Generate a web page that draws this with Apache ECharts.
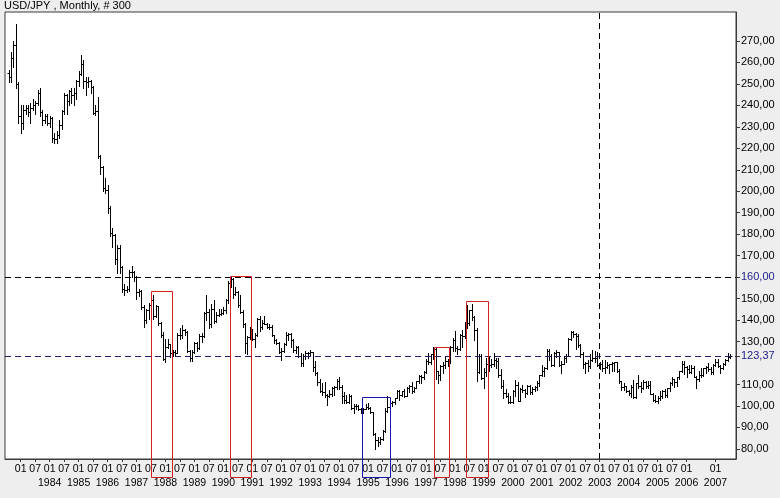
<!DOCTYPE html>
<html>
<head>
<meta charset="utf-8">
<script src="https://cdn.jsdelivr.net/npm/echarts@6/dist/echarts.min.js"></script>
<style>
  html, body { margin: 0; padding: 0; background: #EEEEEE; }
  #chart { width: 780px; height: 498px; }
</style>
</head>
<body>
<div id="chart"></div>
<script>
// Monthly USD/JPY bars, Aug 1982 .. Jul 2007 (300 bars)
const firstMonth = { year: 1982, month: 7 };   // first category (empty slot before the data)
const categoryCount = 303;                      // Jul 1982 .. Sep 2007
const dataStartIndex = 1;                       // Aug 1982

const open = [
  255, 253, 262, 268, 250,
  235, 232, 238, 239, 237, 239, 240, 241, 246, 237, 233, 235,
  232, 234, 225, 224.5, 226, 231, 237.5, 245, 242, 246.5, 245, 246,
  251.5, 254.5, 259.5, 251.5, 251, 251.5, 248.5, 236.5, 237.5, 216.5, 211.5, 201.5,
  200.5, 192, 180.5, 179.5, 168.5, 173.5, 164.5, 154.5, 154, 154.5, 162.5, 162.5,
  160, 153, 153.5, 146, 140, 144.5, 147, 149.5, 142, 146.5, 138.5, 133,
  122, 127.5, 129, 124.5, 125, 124.5, 133, 133, 135.5, 134.5, 125.5, 122.5,
  125, 129.5, 127, 132.5, 132.5, 143.5, 144, 138, 145, 139.5, 142.5, 143,
  143.5, 144.5, 149.5, 157.5, 159, 152, 153, 147, 144, 138, 129.5, 132,
  135.5, 131, 133, 140.5, 137, 138.5, 138, 137, 137, 133, 130.5, 129.5,
  125, 125.5, 129, 133, 133.5, 130.5, 126, 127.5, 123.5, 120, 123.5, 124.5,
  124.5, 125, 118, 115.5, 111, 107, 106.5, 105, 104.5, 105.5, 108.5, 109,
  111.5, 109, 104.5, 103, 102, 104.5, 99, 100, 100, 98.5, 97, 98.5,
  99.5, 99, 97, 87, 84, 83, 84.5, 88.5, 97.5, 99.5, 101.5, 102,
  103.5, 107, 105, 107, 104.5, 108.5, 109.5, 107, 108.5, 111.5, 114, 113.5,
  116, 121, 120.5, 124, 126.5, 116.5, 114.5, 118.5, 119, 121, 120.5, 127.5,
  130.5, 127, 126.5, 133, 132.5, 139, 138.5, 144.5, 141.5, 135.5, 116, 123.5,
  113, 116, 119.5, 119, 119.5, 121.5, 121, 114.5, 109.5, 106, 104.5, 102,
  102, 107, 110, 102.5, 108, 107.5, 106, 109.5, 106.5, 108, 109, 110.5,
  114.5, 116.5, 117.5, 125.5, 123.5, 119, 124.5, 125, 119, 119.5, 122.5, 123.5,
  131, 134.5, 133.5, 132.5, 128.5, 124, 119.5, 120, 118.5, 121.5, 122.5, 122.5,
  119, 119.5, 117.5, 118, 119, 119.5, 120, 120.5, 116.5, 111.5, 109, 109.5,
  107, 106, 109, 104, 110.5, 109.5, 108.5, 111, 109.5, 110, 105.5, 103,
  102.5, 103.5, 104.5, 107, 105, 108.5, 110.5, 112.5, 111, 113.5, 116.5, 119.5,
  118, 117, 116, 117.5, 113.5, 112.5, 114.5, 114.5, 117.5, 118, 117, 116,
  119, 120.5, 118.5, 117.5, 119.5, 121.5, 123
];
const high = [
  256.5, 265, 270, 278, 251,
  240, 240, 240, 240, 241, 243, 242, 247, 248, 238, 236, 236,
  235, 234.5, 227, 228, 233, 238, 246, 245.5, 247, 248, 248, 252,
  256, 263.5, 261, 253, 253, 252, 249, 240, 244, 217, 212, 206,
  203, 193, 183, 180, 175, 175, 165, 157, 156, 163.5, 165, 163,
  160.5, 154.5, 154, 147, 145, 148, 151, 151.5, 147, 146.5, 139, 134.5,
  131, 131, 129, 126, 126, 134, 136.5, 137.5, 136, 135, 126, 126,
  130, 130, 133.5, 134, 144, 151.5, 145, 147.5, 149.5, 144, 145, 145,
  146, 150, 158, 160.5, 159.5, 155.5, 153.5, 151.5, 144.5, 138.5, 132.5, 137,
  136, 134, 141, 142, 140, 142, 138.5, 138, 137.5, 133, 131, 130,
  127, 129.5, 134.5, 134, 134, 131, 128, 128, 124.5, 124, 125.5, 125,
  126, 125, 121, 116, 112.5, 110.5, 111, 105.5, 107.5, 109, 109.5, 112.5,
  113.5, 110, 106.5, 105, 105.5, 105, 101, 101, 100.5, 99, 99, 101,
  101.5, 99.5, 97, 87.5, 85.5, 85.5, 89, 99, 104.5, 101.5, 102.5, 103.5,
  107.5, 107.5, 107, 108, 109, 110, 111, 109, 111.5, 114.5, 114.5, 116.5,
  122, 124.5, 124, 127.5, 127, 116.5, 119, 120.5, 123, 122, 128, 131.5,
  135, 128, 133.5, 135.5, 139, 147, 144.5, 147.5, 142, 136.5, 124, 124,
  117.5, 122.5, 123, 122, 124.5, 122.5, 122.5, 117, 112, 108, 106, 104.5,
  107.5, 112, 111, 108.5, 110, 108, 110, 110, 109, 109.5, 111.5, 114.5,
  119, 118, 126.5, 126.5, 124, 125, 126, 125, 121, 123.5, 124, 131.5,
  135, 135, 134, 133.5, 129, 125, 120.5, 121.5, 124, 126, 125.5, 125,
  120.5, 121.5, 121.5, 120.5, 119.5, 120.5, 120.5, 120.5, 117, 111.5, 110.5, 109.5,
  107.5, 110, 112, 110.5, 114.5, 111, 112, 111.5, 111.5, 111.5, 106, 105,
  104.5, 107, 107.5, 108, 108.5, 111, 113.5, 112.5, 113.5, 116.5, 121, 121,
  118.5, 119, 119, 118.5, 114, 116.5, 117.5, 117.5, 118.5, 120, 118, 119.5,
  122, 122, 119, 120, 122, 124.5, 124
];
const low = [
  251, 251, 258, 248, 232,
  227, 229, 236, 235, 232, 238, 236, 240, 235, 231, 232, 231,
  230, 223, 222.5, 222.5, 225, 229, 236, 236, 240, 241, 240, 243,
  249, 254, 248, 245, 248.5, 246, 236, 235.5, 215.5, 208, 200, 199,
  190, 179, 174, 166, 162, 162, 153, 151.5, 153, 153.5, 160, 158,
  150, 151, 145, 137, 138.5, 140.5, 146.5, 140.5, 141.5, 137.5, 132, 121.5,
  120.5, 127, 123, 123.5, 123.5, 124.5, 131, 131.5, 133, 125, 121, 121,
  124.5, 125.5, 126.5, 130, 132, 140, 136.5, 137, 138.5, 139, 142, 142.5,
  143, 143.5, 148, 155.5, 150.5, 151.5, 146, 143.5, 137, 124.5, 124, 131,
  130.5, 127.5, 132.5, 135, 136, 138, 136.5, 136, 132.5, 129.5, 129, 124.5,
  121.5, 125, 128.5, 130.5, 127.5, 125, 124.5, 123, 118.5, 118.5, 122, 122.5,
  123.5, 116.5, 114.5, 110, 106.5, 105, 104, 100.5, 104, 104.5, 105, 108,
  108, 101.5, 101.5, 101.5, 101.5, 98.5, 96.5, 98.5, 98, 96.5, 96.5, 98.5,
  98.5, 96.5, 86.5, 79.8, 81.5, 82.5, 84, 88, 97, 98.5, 100, 101,
  103.5, 103, 104.5, 104, 104.5, 106.5, 106, 106.5, 108.5, 110.5, 110.5, 112.5,
  115.5, 119.5, 119.5, 122, 112.5, 110.5, 112, 115.5, 117.5, 118.5, 120, 125.5,
  125.5, 124, 126, 127.5, 131.5, 136.5, 137.5, 140, 130.5, 111.5, 115.5, 112.5,
  108.5, 114, 116.5, 118, 118.5, 117.5, 113.5, 108.5, 103.5, 104, 101.5, 101.5,
  101.5, 104.5, 102.5, 102.5, 106.5, 104, 105.5, 105.5, 105.5, 107, 107.5, 109.5,
  114, 114, 117, 121.5, 118.5, 118.5, 123, 118.5, 115.5, 119.5, 120.5, 123.5,
  130.5, 132, 126.5, 127.5, 123, 117.5, 115.5, 116.5, 117.5, 121, 120.5, 118.5,
  117, 116.5, 115.5, 117.5, 115.5, 116.5, 116.5, 116, 110.5, 107.5, 107.5, 106.5,
  105, 104, 103.5, 103.5, 108.5, 106.5, 108, 108.5, 108.5, 105.5, 102.5, 101.8,
  101.5, 103, 103.5, 104, 104, 107, 110, 109, 109.5, 112.5, 116, 115,
  113.5, 115.5, 115.5, 113.5, 108.5, 111.5, 113.5, 114, 115.5, 116.5, 115, 115,
  118.5, 118, 115.5, 117, 119, 121, 122.5
];
const close = [
  253, 262, 268, 250, 235,
  232, 238, 239, 237, 239, 240, 241, 246, 237, 233, 235, 232,
  234, 225, 224.5, 226, 231, 237.5, 245, 242, 246.5, 245, 246, 251.5,
  254.5, 259.5, 251.5, 251, 251.5, 248.5, 236.5, 237.5, 216.5, 211.5, 201.5, 200.5,
  192, 180.5, 179.5, 168.5, 173.5, 164.5, 154.5, 154, 154.5, 162.5, 162.5, 160,
  153, 153.5, 146, 140, 144.5, 147, 149.5, 142, 146.5, 138.5, 133, 122,
  127.5, 129, 124.5, 125, 124.5, 133, 133, 135.5, 134.5, 125.5, 122.5, 125,
  129.5, 127, 132.5, 132.5, 143.5, 144, 138, 145, 139.5, 142.5, 143, 143.5,
  144.5, 149.5, 157.5, 159, 152, 153, 147, 144, 138, 129.5, 132, 135.5,
  131, 133, 140.5, 137, 138.5, 138, 137, 137, 133, 130.5, 129.5, 125,
  125.5, 129, 133, 133.5, 130.5, 126, 127.5, 123.5, 120, 123.5, 124.5, 124.5,
  125, 118, 115.5, 111, 107, 106.5, 105, 104.5, 105.5, 108.5, 109, 111.5,
  109, 104.5, 103, 102, 104.5, 99, 100, 100, 98.5, 97, 98.5, 99.5,
  99, 97, 87, 84, 83, 84.5, 88.5, 97.5, 99.5, 101.5, 102, 103.5,
  107, 105, 107, 104.5, 108.5, 109.5, 107, 108.5, 111.5, 114, 113.5, 116,
  121, 120.5, 124, 126.5, 116.5, 114.5, 118.5, 119, 121, 120.5, 127.5, 130.5,
  127, 126.5, 133, 132.5, 139, 138.5, 144.5, 141.5, 135.5, 116, 123.5, 113,
  116, 119.5, 119, 119.5, 121.5, 121, 114.5, 109.5, 106, 104.5, 102, 102,
  107, 110, 102.5, 108, 107.5, 106, 109.5, 106.5, 108, 109, 110.5, 114.5,
  116.5, 117.5, 125.5, 123.5, 119, 124.5, 125, 119, 119.5, 122.5, 123.5, 131,
  134.5, 133.5, 132.5, 128.5, 124, 119.5, 120, 118.5, 121.5, 122.5, 122.5, 119,
  119.5, 117.5, 118, 119, 119.5, 120, 120.5, 116.5, 111.5, 109, 109.5, 107,
  106, 109, 104, 110.5, 109.5, 108.5, 111, 109.5, 110, 105.5, 103, 102.5,
  103.5, 104.5, 107, 105, 108.5, 110.5, 112.5, 111, 113.5, 116.5, 119.5, 118,
  117, 116, 117.5, 113.5, 112.5, 114.5, 114.5, 117.5, 118, 117, 116, 119,
  120.5, 118.5, 117.5, 119.5, 121.5, 123, 123.37
];

// Right axis tick values and the two reference levels
const yTickValues = [80, 90, 100, 110, 123.37, 130, 140, 150, 160, 170, 180, 190, 200, 210, 220, 230, 240, 250, 260, 270];
const highlightedLevels = [160, 123.37];
const firstLabeledMonth = '1983-01';
const lastLabeledMonth = '2007-01';
const verticalMarkerMonth = '2003-01';

// Highlight boxes: [left category position, right category position, top price, colour]
const boxes = [
  [59.9, 68.85, 153.7, 'red'],
  [92.9, 101.6, 160.5, 'red'],
  [147.4, 159.1, 104.0, 'blue'],
  [177.45, 183.4, 127.3, 'red'],
  [190.7, 199.8, 149.0, 'red']
];

if (open.length !== 300 || high.length !== 300 || low.length !== 300 || close.length !== 300) {
  throw new Error('length mismatch ' + open.length + ' ' + high.length + ' ' + low.length + ' ' + close.length);
}

// categories
const months = [];
for (let i = 0; i < categoryCount; i++) {
  const t = firstMonth.year * 12 + (firstMonth.month - 1) + i;
  const y = Math.floor(t / 12), m = t % 12 + 1;
  months.push(y + '-' + (m < 10 ? '0' + m : '' + m));
}
const firstLabelIdx = months.indexOf(firstLabeledMonth);
const lastLabelIdx = months.indexOf(lastLabeledMonth);

const ohlcData = open.map((o, i) => [i + dataStartIndex, o, high[i], low[i], close[i]]);

const FONT = 'Liberation Sans, Arial, sans-serif';
const NAVY = '#1c1c8a';
const RED = '#d42020';
const BLUE = '#1818a8';
const GRID = { left: 5, top: 12, right: 44, bottom: 39 };
const BOX_OVERHANG = 18;

function showMonth(index) {
  const mm = months[index].slice(5);
  return (mm === '01' || mm === '07') && index >= firstLabelIdx && index <= lastLabelIdx;
}

const chart = echarts.init(document.getElementById('chart'), null, { renderer: 'canvas' });
chart.setOption({
  backgroundColor: '#EEEEEE',
  animation: false,
  title: {
    text: 'USD/JPY , Monthly, # 300',
    left: 4, top: 0, padding: 0,
    textStyle: { fontSize: 11, fontWeight: 'normal', color: '#000', fontFamily: FONT }
  },
  grid: Object.assign({
    show: true, backgroundColor: '#ffffff', borderColor: '#3a3a3a', borderWidth: 1,
    containLabel: false
  }, GRID),
  xAxis: {
    type: 'category',
    data: months,
    boundaryGap: true,
    axisLine: { show: true, lineStyle: { color: '#3a3a3a' } },
    axisTick: { show: true, alignWithLabel: true, length: 3, interval: (i) => showMonth(i), lineStyle: { color: '#3a3a3a' } },
    splitLine: { show: false },
    axisLabel: {
      interval: (i) => showMonth(i),
      showMinLabel: true,
      showMaxLabel: true,
      hideOverlap: false,
      margin: 4,
      color: '#000',
      fontFamily: FONT,
      fontSize: 10.5,
      formatter: (v) => {
        const y = +v.slice(0, 4), mm = v.slice(5);
        if (mm === '01' && y >= 1984) return '{m|01}\n{y|' + y + '}';
        return '{m|' + mm + '}';
      },
      rich: {
        m: { fontSize: 10.5, lineHeight: 13, fontFamily: FONT, color: '#000' },
        y: { fontSize: 10.5, lineHeight: 14, fontFamily: FONT, color: '#000' }
      }
    }
  },
  yAxis: {
    type: 'value',
    position: 'right',
    min: 75.3,
    max: 283.5,
    scale: true,
    splitLine: { show: false },
    axisLine: { show: true, lineStyle: { color: '#3a3a3a' } },
    axisTick: { show: true, length: 4, customValues: yTickValues, lineStyle: { color: '#3a3a3a' } },
    axisLabel: {
      customValues: yTickValues,
      margin: 5,
      fontSize: 11,
      fontFamily: FONT,
      color: '#000',
      formatter: (v) => {
        const s = v.toFixed(2).replace('.', ',');
        return highlightedLevels.some(h => Math.abs(h - v) < 1e-6) ? '{b|' + s + '}' : s;
      },
      rich: { b: { color: NAVY, fontSize: 11, fontFamily: FONT } }
    }
  },
  series: [
    {
      type: 'custom',
      name: 'USD/JPY',
      data: ohlcData,
      dimensions: ['x', 'open', 'high', 'low', 'close'],
      encode: { x: 0, y: [1, 2, 3, 4] },
      z: 3,
      renderItem: (params, api) => {
        const k = api.value(0);
        const pH = api.coord([k, api.value(2)]);
        const pL = api.coord([k, api.value(3)]);
        const pO = api.coord([k, api.value(1)]);
        const pC = api.coord([k, api.value(4)]);
        const x = Math.round(pH[0]) + 0.5;
        const yo = Math.round(pO[1]) + 0.5, yc = Math.round(pC[1]) + 0.5;
        return {
          type: 'group',
          children: [
            { type: 'line', shape: { x1: x, y1: Math.round(pH[1]), x2: x, y2: Math.round(pL[1]) + 1 }, style: { stroke: '#000', lineWidth: 1 } },
            { type: 'line', shape: { x1: x - 2, y1: yo, x2: x, y2: yo }, style: { stroke: '#000', lineWidth: 1 } },
            { type: 'line', shape: { x1: x, y1: yc, x2: x + 2, y2: yc }, style: { stroke: '#000', lineWidth: 1 } }
          ]
        };
      }
    },
    {
      type: 'line',
      data: [],
      silent: true,
      z: 4,
      markLine: {
        silent: true,
        symbol: ['none', 'none'],
        animation: false,
        label: { show: false },
        data: [
          { yAxis: highlightedLevels[0], lineStyle: { color: '#000', type: [6, 4], width: 1 } },
          { yAxis: highlightedLevels[1], lineStyle: { color: '#20206a', type: [6, 4], width: 1 } },
          { xAxis: verticalMarkerMonth, lineStyle: { color: '#000', type: [6, 4], width: 1 } }
        ]
      }
    }
  ]
});

// Highlight boxes: positions come from the chart's own axes via convertToPixel
function boxGraphics() {
  const toPx = (k, v) => chart.convertToPixel({ gridIndex: 0 }, [k, v]);
  const band = toPx(1, 100)[0] - toPx(0, 100)[0];
  const xAt = (v) => toPx(Math.floor(v), 100)[0] + (v - Math.floor(v)) * band;
  const yBot = chart.getHeight() - GRID.bottom + BOX_OVERHANG + 0.5;
  return boxes.map((b) => {
    const x1 = Math.round(xAt(b[0])) + 0.5;
    const x2 = Math.round(xAt(b[1])) + 0.5;
    const yTop = Math.round(toPx(0, b[2])[1]) + 0.5;
    return {
      type: 'rect',
      z: 100,
      silent: true,
      shape: { x: x1, y: yTop, width: x2 - x1, height: yBot - yTop },
      style: { fill: 'transparent', stroke: b[3] === 'red' ? RED : BLUE, lineWidth: 1 }
    };
  });
}
chart.setOption({ graphic: { elements: boxGraphics() } });
</script>
</body>
</html>
